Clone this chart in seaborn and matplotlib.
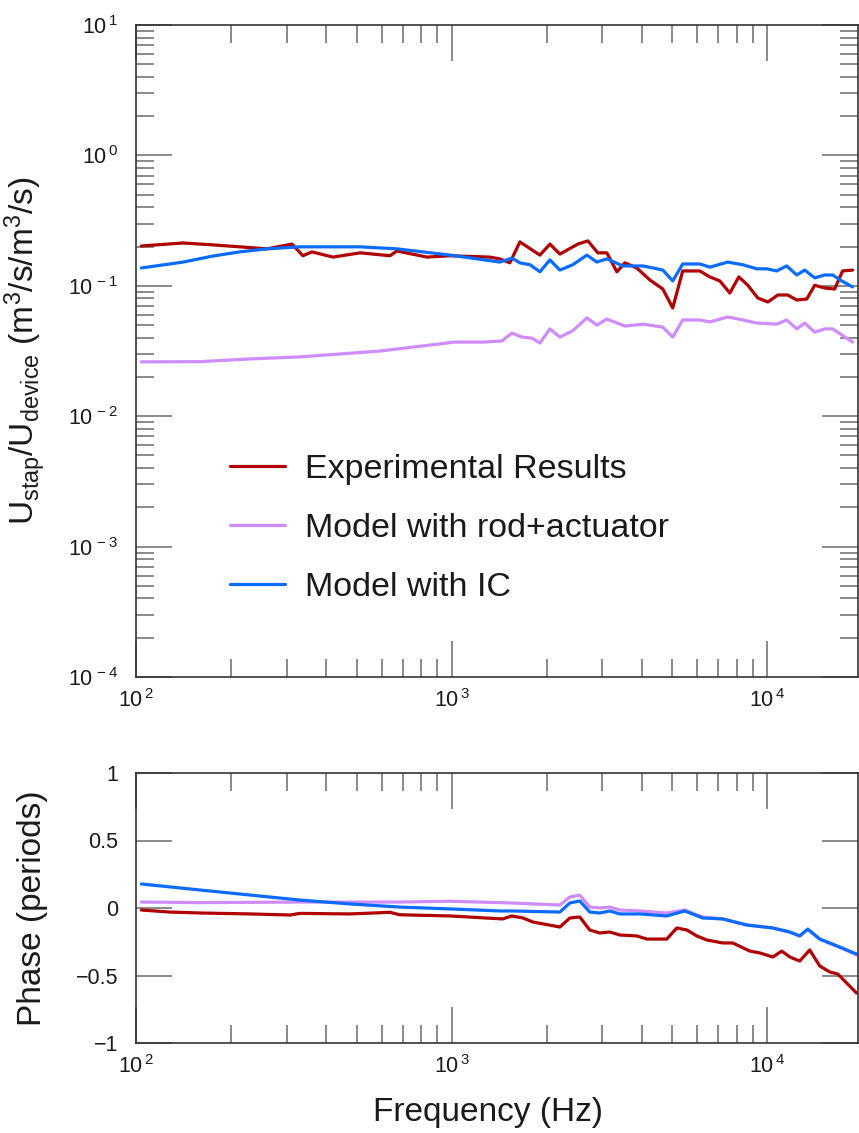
import numpy as np
import pandas as pd
import matplotlib
matplotlib.use("Agg")
import matplotlib.pyplot as plt
import seaborn as sns
from matplotlib.ticker import LogLocator, FuncFormatter, NullFormatter, FixedLocator

# ---------------- data ----------------
series_names = ["Experimental Results", "Model with rod+actuator", "Model with IC"]

# magnitude (top panel)
freq_exp_mag = [104, 141, 175, 213, 260, 312, 338, 361, 421, 513, 638, 671, 836, 989, 1322, 1422,
                1530, 1646, 1905, 2049, 2204, 2513, 2704, 2906, 3104, 3340, 3540, 3862, 4247, 4670,
                5020, 5400, 6119, 6580, 7080, 7614, 8130, 8680, 9340, 10050, 10810, 11620, 12410,
                13350, 14150, 15210, 16360, 17340, 18650]
mag_exp = [0.202, 0.213, 0.206, 0.199, 0.192, 0.209, 0.170, 0.182, 0.166, 0.179, 0.170, 0.185, 0.166,
           0.170, 0.166, 0.161, 0.150, 0.217, 0.172, 0.209, 0.175, 0.209, 0.221, 0.179, 0.179, 0.128,
           0.150, 0.137, 0.111, 0.0945, 0.0676, 0.130, 0.130, 0.117, 0.109, 0.088, 0.117, 0.101,
           0.0806, 0.0751, 0.0850, 0.0850, 0.0778, 0.0792, 0.101, 0.0962, 0.0945, 0.130, 0.132]

freq_rod_mag = [104, 160, 230, 330, 593, 966, 1012, 1256, 1443, 1553, 1671, 1796, 1905, 2049, 2204,
                2420, 2684, 2886, 3104, 3540, 4040, 4670, 5020, 5400, 6119, 6580, 7500, 8370, 9270,
                10720, 11530, 12410, 13150, 14150, 15210, 16130, 18650]
mag_rod = [0.0261, 0.0262, 0.0275, 0.0285, 0.0316, 0.0364, 0.0370, 0.0370, 0.0377, 0.0434, 0.0404,
           0.0397, 0.0364, 0.0467, 0.0404, 0.0452, 0.0567, 0.0500, 0.0556, 0.0491, 0.0508, 0.0482,
           0.0404, 0.0547, 0.0547, 0.0528, 0.0577, 0.0547, 0.0518, 0.0508, 0.0547, 0.0467, 0.0518,
           0.0441, 0.0467, 0.0467, 0.0370]

freq_ic_mag = [104, 141, 175, 213, 260, 330, 421, 513, 671, 989, 1422, 1553, 1646, 1772, 1905, 2049,
               2204, 2420, 2684, 2886, 3104, 3493, 4040, 4347, 4670, 5020, 5400, 6119, 6580, 7500,
               8370, 9270, 9970, 10720, 11530, 12410, 13150, 14150, 15210, 16130, 17230, 18650]
mag_ic = [0.137, 0.152, 0.169, 0.182, 0.192, 0.199, 0.199, 0.199, 0.192, 0.172, 0.152, 0.163, 0.150,
          0.145, 0.128, 0.158, 0.132, 0.145, 0.172, 0.152, 0.161, 0.142, 0.142, 0.137, 0.132, 0.109,
          0.147, 0.147, 0.139, 0.152, 0.145, 0.135, 0.135, 0.130, 0.142, 0.121, 0.132, 0.115, 0.121,
          0.121, 0.109, 0.098]

# phase (bottom panel), periods
freq_exp_ph = [104, 128, 160, 230, 308, 330, 476, 638, 685, 989, 1452, 1553, 1683, 1810, 2204, 2370,
               2548, 2740, 2948, 3172, 3412, 3862, 4156, 4808, 5172, 5564, 5985, 6439, 7231, 7779,
               8810, 9480, 10420, 11120, 11800, 12680, 13640, 14680, 15790, 16740, 19200]
ph_exp = [-0.015, -0.030, -0.037, -0.044, -0.052, -0.040, -0.044, -0.032, -0.050, -0.059, -0.081,
          -0.059, -0.074, -0.104, -0.141, -0.074, -0.067, -0.163, -0.185, -0.178, -0.200, -0.207,
          -0.230, -0.230, -0.148, -0.163, -0.207, -0.237, -0.259, -0.259, -0.319, -0.333, -0.363,
          -0.319, -0.363, -0.393, -0.311, -0.430, -0.474, -0.489, -0.630]

freq_rod_ph = [104, 160, 330, 685, 989, 1553, 2204, 2370, 2548, 2740, 2948, 3172, 3412, 3948, 4808,
               5482, 6250, 7231, 8623, 10420, 11800, 12680, 13450, 14680, 16980, 19200]
ph_rod = [0.044, 0.040, 0.044, 0.044, 0.050, 0.037, 0.022, 0.081, 0.096, 0.007, 0.000, 0.007, -0.015,
          -0.022, -0.037, -0.015, -0.067, -0.081, -0.126, -0.148, -0.178, -0.207, -0.160, -0.232,
          -0.292, -0.348]

freq_ic_ph = [104, 160, 230, 330, 476, 685, 989, 1422, 1553, 2204, 2370, 2548, 2740, 2948, 3172, 3412,
              3948, 4808, 5482, 6250, 7231, 8623, 10420, 11800, 12680, 13450, 14680, 16980, 19200]
ph_ic = [0.178, 0.133, 0.096, 0.059, 0.030, 0.007, -0.007, -0.022, -0.022, -0.030, 0.037, 0.052,
         -0.030, -0.037, -0.022, -0.044, -0.044, -0.059, -0.022, -0.074, -0.081, -0.126, -0.148,
         -0.178, -0.207, -0.156, -0.230, -0.289, -0.341]

phase_ticks = [-1, -0.5, 0, 0.5, 1]

colors = {"Experimental Results": "#b00000",
          "Model with rod+actuator": "#cf8cff",
          "Model with IC": "#0a6cff"}

# ---------------- style ----------------
sns.set_theme(style="ticks")
plt.rcParams["font.family"] = ["Liberation Sans", "DejaVu Sans"]
plt.rcParams["mathtext.fontset"] = "custom"
plt.rcParams["mathtext.rm"] = "Liberation Sans"
plt.rcParams["mathtext.it"] = "Liberation Sans:italic"
plt.rcParams["mathtext.bf"] = "Liberation Sans:bold"
plt.rcParams["mathtext.default"] = "regular"
plt.rcParams["axes.unicode_minus"] = True

W, H = 859, 1133
fig = plt.figure(figsize=(W / 100, H / 100), dpi=100)
ax1 = fig.add_axes([136 / W, 1 - 677 / H, 722 / W, 652 / H])
ax2 = fig.add_axes([136 / W, 1 - 1043 / H, 722 / W, 270 / H])

lw = 2.3
mag_sets = [("Experimental Results", freq_exp_mag, mag_exp),
            ("Model with rod+actuator", freq_rod_mag, mag_rod),
            ("Model with IC", freq_ic_mag, mag_ic)]
ph_sets = [("Experimental Results", freq_exp_ph, ph_exp),
           ("Model with rod+actuator", freq_rod_ph, ph_rod),
           ("Model with IC", freq_ic_ph, ph_ic)]

for name, f, v in mag_sets:
    df = pd.DataFrame({"f": f, "v": v})
    sns.lineplot(data=df, x="f", y="v", ax=ax1, color=colors[name], lw=lw, label=name,
                 estimator=None, sort=False)
for name, f, v in ph_sets:
    df = pd.DataFrame({"f": f, "v": v})
    sns.lineplot(data=df, x="f", y="v", ax=ax2, color=colors[name], lw=lw, legend=False,
                 estimator=None, sort=False)

tick_col = "#6a6a6a"
text_col = "#1a1a1a"


def exp_fmt(v, pos):
    e = int(round(np.log10(v)))
    return r"$10^{\,%d}$" % e


for ax in (ax1, ax2):
    ax.set_xscale("log")
    ax.set_xlim(100, 19400)
    ax.xaxis.set_major_locator(LogLocator(base=10, numticks=10))
    ax.xaxis.set_minor_locator(LogLocator(base=10, subs=np.arange(2, 10), numticks=10))
    ax.xaxis.set_major_formatter(FuncFormatter(exp_fmt))
    ax.xaxis.set_minor_formatter(NullFormatter())
    ax.tick_params(which="both", direction="in", top=True, right=True,
                   color=tick_col, width=1.1, labelcolor=text_col, labelsize=15.5)
    ax.tick_params(which="major", length=26)
    ax.tick_params(which="minor", length=13)
    ax.tick_params(axis="y", pad=13)
    ax.tick_params(axis="x", pad=9)
    for s in ax.spines.values():
        s.set_color("#333333")
        s.set_linewidth(1.2)
    ax.set_xlabel("")

ax1.set_yscale("log")
ax1.set_ylim(1e-4, 10)
ax1.yaxis.set_major_locator(LogLocator(base=10, numticks=20))
ax1.yaxis.set_minor_locator(LogLocator(base=10, subs=np.arange(2, 10), numticks=20))
ax1.yaxis.set_major_formatter(FuncFormatter(exp_fmt))
ax1.yaxis.set_minor_formatter(NullFormatter())
ax1.set_ylabel(r"U$_{stap}$/U$_{device}$ (m$^3$/s/m$^3$/s)", fontsize=24, color=text_col)
ax1.yaxis.set_label_coords(-0.122, 0.5)

ax2.set_ylim(-1, 1)
ax2.yaxis.set_major_locator(FixedLocator(phase_ticks))
ax2.yaxis.set_major_formatter(FuncFormatter(lambda v, p: ("%g" % v).replace("-", "\u2212")))
ax2.set_ylabel("Phase (periods)", fontsize=24, color=text_col)
ax2.yaxis.set_label_coords(-0.122, 0.5)
ax2.set_xlabel("Frequency (Hz)", fontsize=24, color=text_col)
ax2.xaxis.set_label_coords(0.488, -0.2)

leg = ax1.legend(loc="upper left", bbox_to_anchor=(0.13, 0.342), frameon=False,
                 fontsize=24.5, handlelength=1.62, handletextpad=0.59, labelspacing=0.82,
                 borderpad=0, borderaxespad=0)
for t in leg.get_texts():
    t.set_color(text_col)

fig.savefig("out.png", dpi=100)
